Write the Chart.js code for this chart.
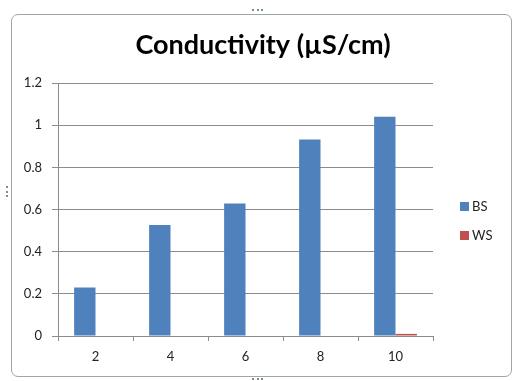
<!DOCTYPE html>
<html>
<head>
<meta charset="utf-8">
<script src="https://cdn.jsdelivr.net/npm/chart.js@4"></script>
<style>
  body { margin: 0; background: #ffffff; }
  #wrap { position: relative; width: 515px; height: 381px; overflow: hidden; }
  #frame {
    position: absolute; left: 11px; top: 14px; width: 499px; height: 361px;
    border: 1px solid #9ca6ad; border-radius: 7px; background: #fff;
  }
  .dots { position: absolute; border-top: 2px dotted #7f8a92; }
  .vdots { position: absolute; border-left: 2px dotted #7f8a92; }
  canvas { position: absolute; left: 0; top: 0; }
</style>
</head>
<body>
<div id="wrap">
  <div id="frame"></div>
  <div class="dots" style="left:252px; top:9px; width:11px;"></div>
  <div class="dots" style="left:252px; top:378px; width:11px;"></div>
  <div class="vdots" style="left:6px; top:186px; height:11px;"></div>
  <canvas id="chart" width="515" height="381"></canvas>
</div>
<script>
// data
const categories = ['2', '4', '6', '8', '10'];
const valuesBS = [0.23, 0.527, 0.628, 0.932, 1.04];
const valuesWS = [0, 0, 0, 0, 0.01];
const titleText = 'Conductivity (\u00b5S/cm)';

const fontName = 'Lato, "Open Sans", sans-serif';

// title + legend drawn at fixed spots like the excel sheet
const excelBits = {
  id: 'excelBits',
  afterDraw(chart) {
    const ctx = chart.ctx;
    ctx.save();
    ctx.fillStyle = '#000';
    ctx.font = 'bold 27px ' + fontName;
    ctx.textAlign = 'center';
    ctx.textBaseline = 'alphabetic';
    ctx.fillText(titleText, 263, 54);

    ctx.font = '13px ' + fontName;
    ctx.textAlign = 'left';
    ctx.textBaseline = 'middle';
    const ys = [206, 235];
    chart.data.datasets.forEach((ds, i) => {
      ctx.fillStyle = ds.backgroundColor;
      ctx.fillRect(460, ys[i] - 4, 9, 9);
      ctx.fillStyle = '#222';
      ctx.fillText(ds.label, 472, ys[i] + 1);
    });
    ctx.restore();
  }
};

var ctx = document.getElementById('chart').getContext('2d');
var chart = new Chart(ctx, {
  type: 'bar',
  data: {
    labels: categories,
    datasets: [{
      label: 'BS',
      data: valuesBS,
      backgroundColor: '#4f81bd',
      categoryPercentage: 0.57,
      barPercentage: 1
    }, {
      label: 'WS',
      data: valuesWS,
      backgroundColor: '#c0504d',
      categoryPercentage: 0.57,
      barPercentage: 1
    }]
  },
  options: {
    responsive: false,
    animation: false,
    layout: { padding: { top: 83, right: 82, left: 0, bottom: 0 } },
    plugins: {
      legend: { display: false },
      title: { display: false },
      tooltip: { enabled: false }
    },
    scales: {
      x: {
        afterFit: function (s) { s.height = 45; },
        grid: { drawOnChartArea: false, drawTicks: true, tickLength: 5, color: '#8c8c8c', offset: true },
        border: { color: '#8c8c8c' },
        ticks: { color: '#222', font: { family: fontName, size: 13 }, padding: 8 }
      },
      y: {
        min: 0,
        max: 1.2,
        afterFit: function (s) { s.width = 58; },
        grid: { color: '#8c8c8c', tickLength: 6 },
        border: { color: '#8c8c8c' },
        ticks: {
          stepSize: 0.2,
          color: '#222',
          font: { family: fontName, size: 13 },
          padding: 10,
          callback: function (v) { return parseFloat(v.toFixed(1)); }
        }
      }
    }
  },
  plugins: [excelBits]
});
</script>
</body>
</html>
